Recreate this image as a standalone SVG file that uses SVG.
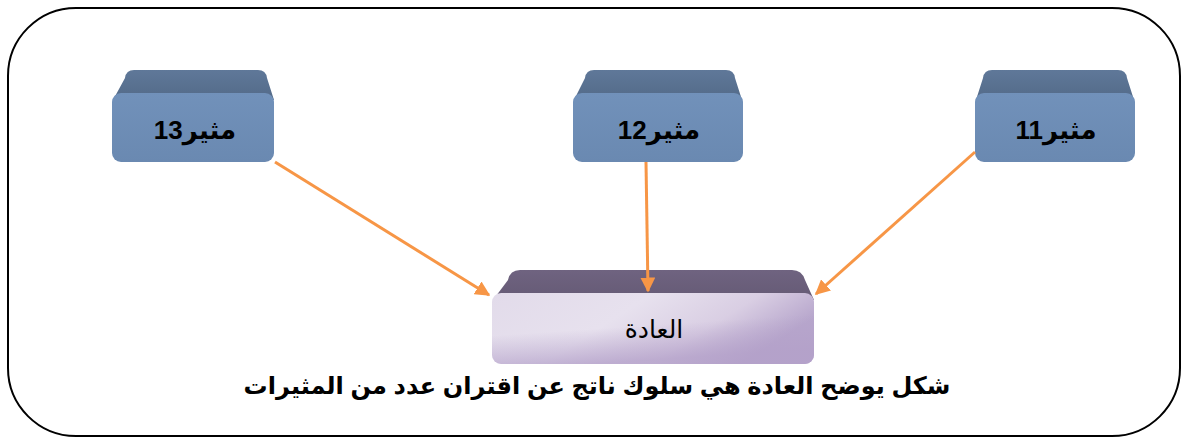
<svg xmlns="http://www.w3.org/2000/svg" width="1186" height="442" viewBox="0 0 1186 442">
  <defs>
    <linearGradient id="blueTop" x1="0" y1="0" x2="0" y2="1">
      <stop offset="0" stop-color="#5F7899"/>
      <stop offset="1" stop-color="#536A88"/>
    </linearGradient>
    <linearGradient id="blueFront" x1="0" y1="0" x2="0" y2="1">
      <stop offset="0" stop-color="#7191BA"/>
      <stop offset="1" stop-color="#6A89B1"/>
    </linearGradient>
    <linearGradient id="purpleTop" x1="0" y1="0" x2="0" y2="1">
      <stop offset="0" stop-color="#6F6380"/>
      <stop offset="1" stop-color="#655A75"/>
    </linearGradient>
    <linearGradient id="purpleFront" x1="0" y1="0" x2="1" y2="0.35">
      <stop offset="0" stop-color="#E2DBEA"/>
      <stop offset="0.45" stop-color="#E7E1EE"/>
      <stop offset="0.75" stop-color="#D9CEE3"/>
      <stop offset="1" stop-color="#B7A6CC"/>
    </linearGradient>
    <linearGradient id="purpleShade" x1="0" y1="0" x2="0.3" y2="1">
      <stop offset="0.55" stop-color="#B3A0C9" stop-opacity="0"/>
      <stop offset="1" stop-color="#B3A0C9" stop-opacity="0.75"/>
    </linearGradient>
    <marker id="arrow" viewBox="0 0 10 10" refX="9" refY="5" markerWidth="5" markerHeight="5" orient="auto" markerUnits="strokeWidth">
      <path d="M0,0 L10,5 L0,10 z" fill="#F79646"/>
    </marker>
    <style>
      .frame { fill: none; stroke: #000; stroke-width: 2; }
      .btop { fill: url(#blueTop); }
      .bfront { fill: url(#blueFront); }
      .lbl { font-family: "Liberation Sans", "DejaVu Sans", sans-serif; font-weight: bold; font-size: 26px; fill: #000; }
      .conn { stroke: #F79646; stroke-width: 3; fill: none; marker-end: url(#arrow); }
      .caption { font-family: "Liberation Sans", "DejaVu Sans", sans-serif; font-weight: bold; font-size: 24px; fill: #000; }
      .habit { font-family: "Liberation Sans", "DejaVu Sans", sans-serif; font-size: 25px; fill: #000; }
    </style>
  </defs>

  <rect class="frame" x="8" y="8" width="1172" height="428" rx="68" ry="68"/>

  <g id="node-m13">
    <path class="btop" d="M125,78 Q126,70 134,70 L258,70 Q266,70 267,78 L274,100 L113,100 Z"/>
    <rect class="bfront" x="112" y="93" width="162" height="69" rx="9" ry="9"/>
    <text class="lbl" x="195" y="139" text-anchor="middle" direction="rtl">مثير13</text>
  </g>

  <g id="node-m12">
    <path class="btop" d="M585,78 Q586,70 594,70 L726,70 Q734,70 735,78 L742,100 L574,100 Z"/>
    <rect class="bfront" x="573" y="93" width="170" height="69" rx="9" ry="9"/>
    <text class="lbl" x="659" y="139" text-anchor="middle" direction="rtl">مثير12</text>
  </g>

  <g id="node-m11">
    <path class="btop" d="M983,78 Q984,70 992,70 L1118,70 Q1126,70 1127,78 L1134,100 L976,100 Z"/>
    <rect class="bfront" x="975" y="93" width="160" height="69" rx="9" ry="9"/>
    <text class="lbl" x="1056" y="139" text-anchor="middle" direction="rtl">مثير11</text>
  </g>

  <g id="node-habit">
    <path fill="url(#purpleTop)" d="M508,280 Q510,270 520,270 L792,270 Q802,270 805,280 L814,300 L493,300 Z"/>
    <rect x="492" y="293" width="322" height="71" rx="9" ry="9" fill="url(#purpleFront)"/>
    <rect x="492" y="293" width="322" height="71" rx="9" ry="9" fill="url(#purpleShade)"/>
    <text class="habit" x="654" y="338" text-anchor="middle" direction="rtl">العادة</text>
  </g>

  <g id="connectors">
    <line class="conn" x1="275" y1="162" x2="489" y2="295"/>
    <line class="conn" x1="646" y1="162" x2="648" y2="291"/>
    <line class="conn" x1="975" y1="152" x2="816" y2="294"/>
  </g>

  <g id="caption">
    <text class="caption" x="597" y="394" text-anchor="middle" direction="rtl">شكل يوضح العادة هي سلوك ناتج عن اقتران عدد من المثيرات</text>
  </g>
</svg>
